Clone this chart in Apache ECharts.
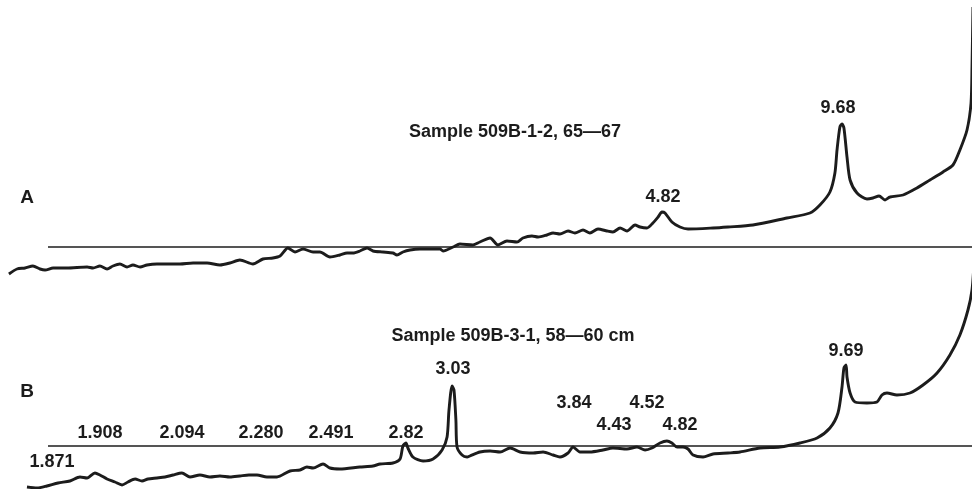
<!DOCTYPE html>
<html>
<head>
<meta charset="utf-8">
<script src="https://cdn.jsdelivr.net/npm/echarts@6/dist/echarts.min.js"></script>
<style>
  html, body { margin: 0; padding: 0; background: #fff; }
  #chart { width: 972px; height: 489px; }
</style>
</head>
<body>
<div id="chart"></div>
<script>
// Difratogramas (2θ decrescendo para a direita), intensidade relativa à linha de base
const thetaA = [52.41,51.99,51.57,51.16,50.79,50.53,50.11,49.39,48.34,48.03,47.67,47.30,46.99,46.63,46.26,45.95,45.58,45.22,44.70,44.18,43.50,42.82,42.09,41.42,40.90,40.38,39.70,39.18,38.66,38.29,37.88,37.51,37.09,36.57,36.21,35.69,35.17,34.80,34.49,34.13,33.76,33.45,32.93,32.41,32.20,31.89,31.52,31.00,30.48,29.96,29.80,29.28,28.92,28.24,27.88,27.35,26.94,26.47,25.95,25.64,25.17,24.85,24.39,24.07,23.71,23.29,22.93,22.51,22.15,21.73,21.26,20.95,20.58,20.22,19.80,19.54,19.18,18.87,18.60,18.40,18.24,17.88,17.46,17.04,15.74,14.96,13.66,11.89,10.69,10.17,9.65,9.39,9.28,9.13,9.02,8.92,8.76,8.60,8.24,7.72,7.41,7.09,6.78,6.52,5.84,5.12,4.44,3.76,3.24,2.88,2.51,2.30,2.25,2.20];
const countsA = [-27,-22,-21,-19,-22,-23,-21,-21,-20,-21,-19,-22,-19,-17,-20,-18,-20,-18,-17,-17,-17,-16,-16,-18,-16,-13,-17,-12,-11,-9,-1,-5,-2,-5,-5,-10,-8,-6,-6,-4,-1,-4,-5,-6,-8,-5,-3,-2,-2,-2,-4,0,3,2,5,9,2,6,5,9,11,10,12,14,13,16,14,17,14,18,16,15,19,16,22,20,19,24,30,35,34,25,20,18,19,20,22,29,34,42,55,74,97,120,123,119,90,67,54,48,49,51,47,50,52,59,67,75,82,97,117,144,180,240];

const thetaB = [51.47,50.95,50.43,49.85,49.23,48.71,48.34,47.93,47.67,47.30,46.89,46.52,46.21,45.84,45.48,45.17,44.70,44.28,43.86,43.40,42.98,42.46,41.94,41.42,40.90,40.38,39.91,39.49,38.97,38.45,37.77,37.25,36.89,36.57,36.05,35.69,35.17,34.13,33.45,33.08,32.41,32.04,31.89,31.73,31.63,31.37,30.84,30.32,29.85,29.59,29.49,29.33,29.23,29.13,29.07,28.81,28.55,28.40,27.88,27.35,26.83,26.31,25.79,25.11,24.59,24.07,23.71,23.29,23.03,22.67,22.15,21.47,20.95,20.22,19.70,19.28,18.92,18.50,18.14,17.88,17.61,17.30,17.04,16.78,16.26,15.74,14.96,14.33,13.29,12.25,11.21,10.32,9.65,9.23,9.02,8.92,8.81,8.76,8.60,8.34,7.72,7.20,6.94,6.68,6.16,5.48,4.80,4.07,3.40,2.88,2.46,2.25,2.15];
const countsB = [-41,-42,-40,-37,-35,-31,-32,-27,-29,-33,-36,-39,-36,-33,-35,-33,-32,-31,-29,-27,-31,-29,-31,-30,-31,-30,-29,-29,-31,-31,-25,-24,-21,-22,-18,-22,-23,-21,-20,-18,-17,-13,0,3,-2,-11,-15,-13,-4,9,36,60,56,26,-1,-9,-11,-10,-6,-5,-6,-2,-6,-7,-6,-9,-11,-7,-1,-6,-6,-4,-2,-3,-1,-4,-2,3,5,3,-1,-1,-3,-9,-11,-8,-7,-6,-2,-1,3,8,18,33,59,78,81,69,53,44,43,44,51,53,51,53,61,73,91,111,136,156,181];

// rótulos dos picos (espaçamento d em Å)
const labelsA = ["9.68", "4.82"];
const labelThetaA = [9.23, 18.34];
const labelYA = [139, 50];

const labelsB = ["3.03", "1.908", "2.094", "2.280", "2.491", "2.82", "1.871", "3.84", "4.52", "4.43", "4.82", "9.69"];
const labelThetaB = [29.28, 47.67, 43.40, 39.28, 35.64, 31.73, 50.17, 22.98, 19.18, 20.90, 17.46, 8.81];
const labelYB = [77, 13, 13, 13, 13, 13, -16, 43, 43, 21, 21, 95];

const baselineStart = 50.375;
const thetaMin = 2.25, thetaMax = 52.875;

const ink = "#1c1c1c";
const fonte = "'Liberation Sans', Arial, sans-serif";

function pares(xs, ys) {
  return xs.map((x, i) => [x, ys[i]]);
}

function rotulos(txts, xs, ys) {
  return txts.map((t, i) => ({ name: t, value: [xs[i], ys[i]] }));
}

function tracoSerie(idx, data) {
  return {
    type: "line",
    xAxisIndex: idx,
    yAxisIndex: idx,
    data: data,
    showSymbol: false,
    smooth: 0.25,
    clip: true,
    lineStyle: { color: ink, width: 2.9 },
    markLine: {
      silent: true,
      symbol: "none",
      label: { show: false },
      lineStyle: { color: ink, width: 1.6, type: "solid" },
      data: [[{ coord: [baselineStart, 0] }, { coord: [thetaMin, 0] }]]
    },
    z: 3
  };
}

function rotuloSerie(idx, data) {
  return {
    type: "scatter",
    xAxisIndex: idx,
    yAxisIndex: idx,
    symbolSize: 0,
    data: data,
    itemStyle: { color: ink, opacity: 1 },
    label: {
      show: true,
      position: "inside",
      formatter: p => p.name,
      color: ink,
      opacity: 1,
      fontFamily: fonte,
      fontWeight: "bold",
      fontSize: 18
    },
    z: 4
  };
}

const eixoX = i => ({
  type: "value", gridIndex: i, min: thetaMin, max: thetaMax, inverse: true, show: false
});

const chart = echarts.init(document.getElementById("chart"));
chart.setOption({
  backgroundColor: "#fff",
  animation: false,
  grid: [
    { left: 0, right: 0, top: 0, height: 280 },
    { left: 0, right: 0, top: 270, height: 219 }
  ],
  xAxis: [eixoX(0), eixoX(1)],
  yAxis: [
    { type: "value", gridIndex: 0, min: -33, max: 247, show: false },
    { type: "value", gridIndex: 1, min: -43, max: 176, show: false }
  ],
  graphic: [
    { type: "text", x: 515, y: 132, style: { text: "Sample 509B-1-2, 65—67", fill: ink, font: "bold 18px " + fonte, textAlign: "center", textVerticalAlign: "middle" } },
    { type: "text", x: 513, y: 336, style: { text: "Sample 509B-3-1, 58—60 cm", fill: ink, font: "bold 18px " + fonte, textAlign: "center", textVerticalAlign: "middle" } },
    { type: "text", x: 27, y: 198, style: { text: "A", fill: ink, font: "bold 19px " + fonte, textAlign: "center", textVerticalAlign: "middle" } },
    { type: "text", x: 27, y: 392, style: { text: "B", fill: ink, font: "bold 19px " + fonte, textAlign: "center", textVerticalAlign: "middle" } }
  ],
  series: [
    tracoSerie(0, pares(thetaA, countsA)),
    tracoSerie(1, pares(thetaB, countsB)),
    rotuloSerie(0, rotulos(labelsA, labelThetaA, labelYA)),
    rotuloSerie(1, rotulos(labelsB, labelThetaB, labelYB))
  ]
});
</script>
</body>
</html>
